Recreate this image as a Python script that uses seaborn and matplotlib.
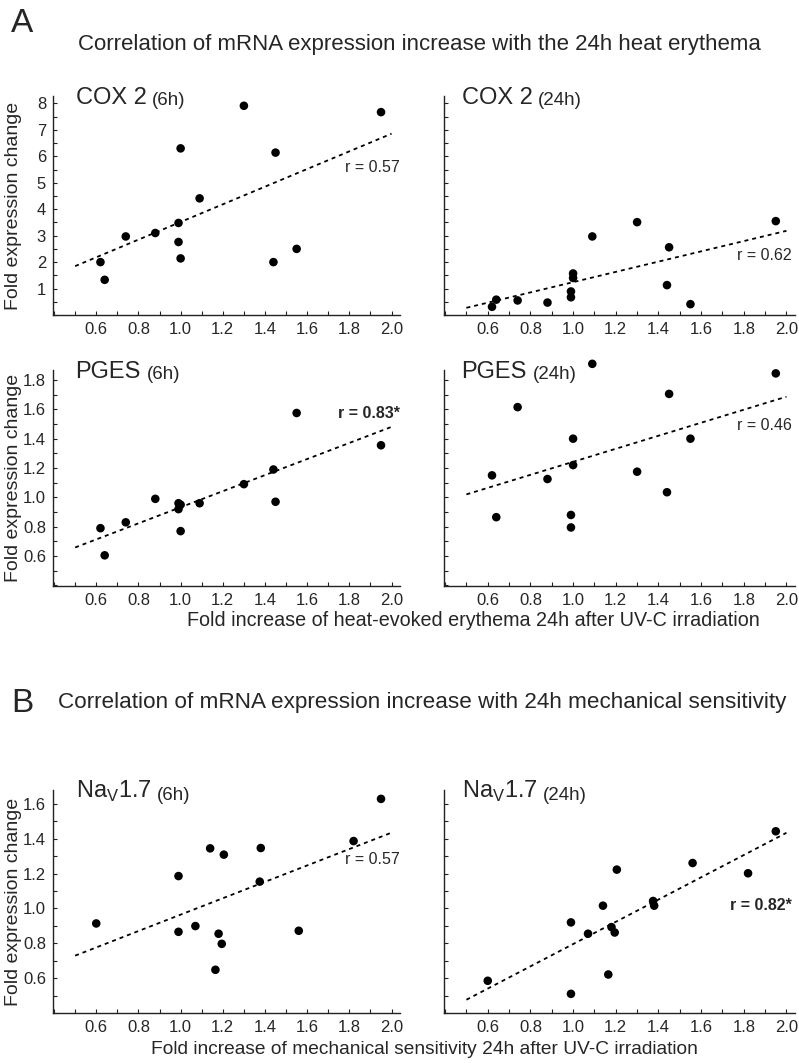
import numpy as np
import pandas as pd
import seaborn as sns
import matplotlib
matplotlib.use("Agg")
import matplotlib.pyplot as plt
from matplotlib.ticker import MultipleLocator, FixedLocator, FormatStrFormatter

# ---------------- data ----------------
erythema = [0.62, 0.64, 0.74, 0.88, 0.99, 0.99, 1.00, 1.00, 1.09, 1.30, 1.44, 1.45, 1.55, 1.95]
cox2_6h = [2.00, 1.33, 2.97, 3.10, 3.48, 2.76, 6.30, 2.14, 4.41, 7.91, 2.00, 6.14, 2.50, 7.67]
cox2_24h = [0.31, 0.58, 0.55, 0.47, 0.67, 0.89, 1.57, 1.40, 2.97, 3.51, 1.13, 2.56, 0.41, 3.55]
pges_6h = [0.79, 0.605, 0.83, 0.99, 0.96, 0.92, 0.95, 0.77, 0.96, 1.09, 1.19, 0.97, 1.575, 1.355]
pges_24h = [1.15, 0.865, 1.615, 1.125, 0.88, 0.795, 1.40, 1.22, 1.91, 1.175, 1.035, 1.705, 1.40, 1.845]

mechanical = [0.60, 0.99, 0.99, 1.07, 1.14, 1.165, 1.18, 1.195, 1.205, 1.375, 1.38, 1.56, 1.82, 1.95]
nav_6h = [0.914, 1.186, 0.866, 0.899, 1.345, 0.648, 0.855, 0.797, 1.309, 1.154, 1.347, 0.872, 1.387, 1.629]
nav_24h = [0.585, 0.92, 0.51, 0.855, 1.016, 0.621, 0.893, 0.862, 1.223, 1.043, 1.016, 1.261, 1.202, 1.443]

r_labels = ["r = 0.57", "r = 0.62", "r = 0.83*", "r = 0.46", "r = 0.57", "r = 0.82*"]
x_ticks = [0.6, 0.8, 1.0, 1.2, 1.4, 1.6, 1.8, 2.0]
cox_ticks = [1, 2, 3, 4, 5, 6, 7, 8]
pges_ticks = [0.6, 0.8, 1.0, 1.2, 1.4, 1.6, 1.8]
nav_ticks = [0.6, 0.8, 1.0, 1.2, 1.4, 1.6]

# ---------------- style ----------------
sns.set_style("ticks")
plt.rcParams["font.family"] = ["Liberation Sans", "DejaVu Sans"]
plt.rcParams["mathtext.fontset"] = "custom"
plt.rcParams["mathtext.rm"] = "Liberation Sans"

W, H = 799, 1063
fig = plt.figure(figsize=(W / 100, H / 100), dpi=100)


def add_axes(left, top, width, height):
    return fig.add_axes([left / W, 1 - (top + height) / H, width / W, height / H])


panels = [
    dict(x=erythema, y=cox2_6h, pos=(53, 96, 347, 219), ylim=(0, 8.28), ticks=cox_ticks, minor=0.5, fmt="%d",
         title="COX 2", sub="(6h)", r=r_labels[0], ry=0.675, bold=False, left=True),
    dict(x=erythema, y=cox2_24h, pos=(444, 96, 351, 219), ylim=(0, 8.28), ticks=cox_ticks, minor=0.5, fmt="%d",
         title="COX 2", sub="(24h)", r=r_labels[1], ry=0.27, bold=False, left=False),
    dict(x=erythema, y=pges_6h, pos=(53, 370, 347, 216), ylim=(0.396, 1.868), ticks=pges_ticks, minor=0.1, fmt="%.1f",
         title="PGES", sub="(6h)", r=r_labels[2], ry=0.80, bold=True, left=True),
    dict(x=erythema, y=pges_24h, pos=(444, 370, 351, 216), ylim=(0.396, 1.868), ticks=pges_ticks, minor=0.1, fmt="%.1f",
         title="PGES", sub="(24h)", r=r_labels[3], ry=0.745, bold=False, left=False),
    dict(x=mechanical, y=nav_6h, pos=(53, 790, 347, 223), ylim=(0.4, 1.68), ticks=nav_ticks, minor=0.1, fmt="%.1f",
         title="Na$_{\\mathregular{V}}$1.7", sub="(6h)", r=r_labels[4], ry=0.69, bold=False, left=True),
    dict(x=mechanical, y=nav_24h, pos=(444, 790, 351, 223), ylim=(0.4, 1.68), ticks=nav_ticks, minor=0.1, fmt="%.1f",
         title="Na$_{\\mathregular{V}}$1.7", sub="(24h)", r=r_labels[5], ry=0.48, bold=True, left=False),
]

for p in panels:
    ax = add_axes(*p["pos"])
    df = pd.DataFrame({"x": p["x"], "y": p["y"]})
    sns.scatterplot(data=df, x="x", y="y", ax=ax, color="black", s=38,
                    edgecolor="none", clip_on=False, zorder=3)
    # least-squares regression line over 0.5 - 2.0
    slope, intercept = np.polyfit(df["x"], df["y"], 1)
    xs = np.array([0.5, 2.0])
    ax.plot(xs, slope * xs + intercept, color="black", lw=1.3, ls=(0, (2.2, 2.2)))

    ax.set_xlim(0.395, 2.04)
    ax.set_xticks(x_ticks)
    ax.set_xticklabels([f"{t:.1f}" for t in x_ticks])
    ax.xaxis.set_minor_locator(MultipleLocator(0.1))
    ax.yaxis.set_major_locator(FixedLocator(p["ticks"]))
    ax.yaxis.set_minor_locator(MultipleLocator(p["minor"]))
    ax.yaxis.set_major_formatter(FormatStrFormatter(p["fmt"]))
    ax.set_ylim(*p["ylim"])
    ax.tick_params(axis="both", which="both", direction="in", length=3, width=0.8,
                   color="#222222", labelsize=12, pad=5)
    if not p["left"]:
        ax.tick_params(axis="y", labelleft=False)
    for s in ("top", "right"):
        ax.spines[s].set_visible(False)
    for s in ("left", "bottom"):
        ax.spines[s].set_color("#222222")
        ax.spines[s].set_linewidth(1.0)
    ax.set_xlabel("")
    ax.set_ylabel("")

    t1 = ax.text(0.065 if p["left"] else 0.05, 0.965, p["title"], transform=ax.transAxes,
                 fontsize=17, va="baseline", ha="left")
    ax.annotate(p["sub"], xy=(1, 0), xycoords=t1, xytext=(4, 0), textcoords="offset points",
                fontsize=13.5, va="bottom", ha="left")
    ax.text(1.0 if p["left"] else 0.99, p["ry"], p["r"], transform=ax.transAxes,
            fontsize=11.5, ha="right", va="center",
            fontweight="bold" if p["bold"] else "normal")

# y labels
for top, h in [(96, 219), (370, 216), (790, 223)]:
    fig.text(14 / W, 1 - (top + h / 2) / H, "Fold expression change", rotation=90,
             fontsize=14, ha="center", va="center")

# x labels
fig.text(473 / W, 1 - 620 / H, "Fold increase of heat-evoked erythema 24h after UV-C irradiation",
         fontsize=14.2, ha="center", va="center")
fig.text(424 / W, 1 - 1049 / H, "Fold increase of mechanical sensitivity 24h after UV-C irradiation",
         fontsize=13.8, ha="center", va="center")

# section headings
fig.text(11 / W, 1 - 32 / H, "A", fontsize=24, ha="left", va="baseline")
fig.text(419 / W, 1 - 50 / H, "Correlation of mRNA expression increase with the 24h heat erythema",
         fontsize=16, ha="center", va="baseline")
fig.text(11 / W, 1 - 712 / H, "B", fontsize=24, ha="left", va="baseline")
fig.text(422 / W, 1 - 708 / H, "Correlation of mRNA expression increase with 24h mechanical sensitivity",
         fontsize=16.2, ha="center", va="baseline")

fig.savefig("out.png", dpi=100)
